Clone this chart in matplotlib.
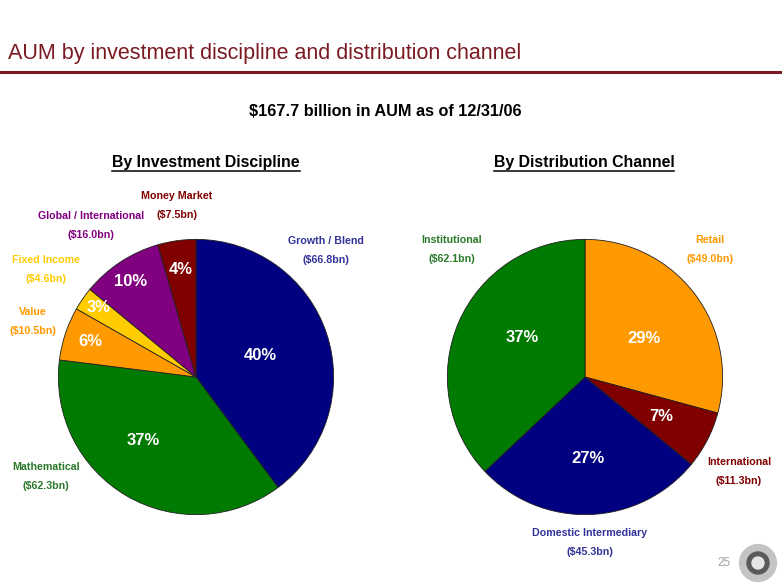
import matplotlib
matplotlib.use("Agg")
import matplotlib.pyplot as plt
from matplotlib.lines import Line2D
from matplotlib.patches import Circle
import numpy as np

# ── DATA ──────────────────────────────────────────────────────────────────────
disc_names  = ["Growth / Blend", "Mathematical", "Value", "Fixed Income",
               "Global / International", "Money Market"]
disc_values = [66.8, 62.3, 10.5, 4.6, 16.0, 7.5]

chan_names  = ["Retail", "International", "Domestic Intermediary", "Institutional"]
chan_values = [49.0, 11.3, 45.3, 62.1]

TITLE    = "AUM by investment discipline and distribution channel"
SUBTITLE = "$167.7 billion in AUM as of 12/31/06"
PAGE     = "25"

# ── STYLE ─────────────────────────────────────────────────────────────────────
W, H = 782, 587
NARROW = ["Liberation Sans Narrow", "Liberation Sans", "DejaVu Sans"]
SANS   = ["Liberation Sans", "DejaVu Sans"]
MAROON = "#7a1a22"

disc_colors = ["#000080", "#007a00", "#ff9900", "#ffcc00", "#800080", "#800000"]
disc_label_colors = ["#333399", "#2b7a2b", "#ff9900", "#ffcc00", "#800080", "#800000"]
# pixel anchor of each outside label (name line), centered
disc_label_xy = [(326, 241), (46, 467), (33, 312), (46, 260), (91, 216), (177, 196)]
disc_pct_r  = [0.49, 0.60, 0.81, 0.87, 0.84, 0.79]
disc_pct_dt = [0, -9, 0, -1, 1, 0]

chan_colors = ["#ff9900", "#800000", "#000080", "#007a00"]
chan_label_colors = ["#ff9900", "#800000", "#333399", "#2b7a2b"]
chan_label_xy = [(710, 240), (739, 462), (590, 533), (452, 240)]
chan_pct_r  = [0.51, 0.62, 0.59, 0.54]
chan_pct_dt = [-4, 0, 0, -9]

R = 139


def fx(x):
    return x / W


def fy(y):
    return 1 - y / H


fig = plt.figure(figsize=(W / 100, H / 100), dpi=100)
fig.patch.set_facecolor("white")

# ── HEADER ────────────────────────────────────────────────────────────────────
fig.text(fx(8), fy(53), TITLE, family=NARROW, fontsize=15.5, color=MAROON,
         ha="left", va="center")
fig.add_artist(Line2D([0, 1], [fy(72), fy(72)], color=MAROON, lw=2.2))
fig.text(fx(385), fy(112), SUBTITLE, family=NARROW, fontsize=11.7,
         weight="bold", ha="center", va="center")

headers = [("By Investment Discipline", 206), ("By Distribution Channel", 584)]
head_texts = []
for txt, x in headers:
    t = fig.text(fx(x), fy(162), txt, family=NARROW, fontsize=11.4,
                 weight="bold", ha="center", va="center")
    head_texts.append(t)


# ── PIES ──────────────────────────────────────────────────────────────────────
def draw_pie(cx, cy, values, names, colors, lab_colors, lab_xy, pct_r, pct_dt):
    ax = fig.add_axes([fx(cx - R), fy(cy + R), 2 * R / W, 2 * R / H])
    wedges, _ = ax.pie(values, colors=colors, startangle=90, counterclock=False,
                       radius=1, wedgeprops=dict(edgecolor="#202020", linewidth=0.6))
    ax.set_xlim(-1.01, 1.01)
    ax.set_ylim(-1.01, 1.01)
    ax.set_aspect("equal")
    ax.axis("off")
    total = sum(values)
    for w, v, r, dt in zip(wedges, values, pct_r, pct_dt):
        ang = np.deg2rad((w.theta1 + w.theta2) / 2 + dt)
        ax.text(r * np.cos(ang), r * np.sin(ang), f"{v / total * 100:.0f}%",
                ha="center", va="center", color="white", fontsize=12,
                weight="bold", family=SANS)
    for name, v, c, (x, y) in zip(names, values, lab_colors, lab_xy):
        fig.text(fx(x), fy(y), name, ha="center", va="center", color=c,
                 fontsize=7.7, weight="bold", family=NARROW)
        fig.text(fx(x), fy(y + 19), f"(${v:.1f}bn)", ha="center", va="center",
                 color=c, fontsize=7.7, weight="bold", family=NARROW)


draw_pie(196, 377, disc_values, disc_names, disc_colors, disc_label_colors,
         disc_label_xy, disc_pct_r, disc_pct_dt)
draw_pie(585, 377, chan_values, chan_names, chan_colors, chan_label_colors,
         chan_label_xy, chan_pct_r, chan_pct_dt)

# ── FOOTER ────────────────────────────────────────────────────────────────────
fig.text(fx(724), fy(563), PAGE, family=SANS, fontsize=8.5, color="#a0a0a0",
         ha="center", va="center")
logo_ax = fig.add_axes([fx(738), fy(583), 40 / W, 40 / H])
logo_ax.add_patch(Circle((0, 0), 0.92, color="#c4c4c4"))
logo_ax.add_patch(Circle((0, 0), 0.55, color="#5a5a5a"))
logo_ax.add_patch(Circle((0, 0), 0.3, color="#e6e6e6"))
logo_ax.set_xlim(-1.0, 1.0)
logo_ax.set_ylim(-1.0, 1.0)
logo_ax.set_aspect("equal")
logo_ax.axis("off")

# underline the section headers
fig.canvas.draw()
rend = fig.canvas.get_renderer()
for t in head_texts:
    bb = t.get_window_extent(rend).transformed(fig.transFigure.inverted())
    fig.add_artist(Line2D([bb.x0, bb.x1], [bb.y0 - 0.002, bb.y0 - 0.002],
                          color="black", lw=1.1))

fig.savefig("out.png", dpi=100)
